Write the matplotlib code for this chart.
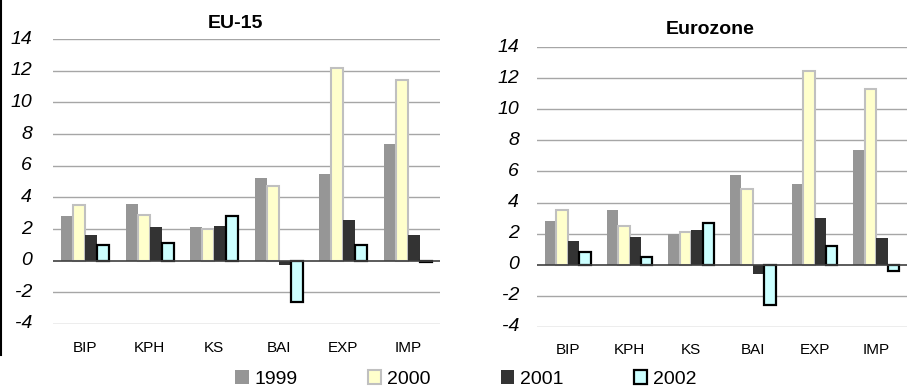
import matplotlib
matplotlib.use("Agg")
import matplotlib.pyplot as plt
import numpy as np
from matplotlib.lines import Line2D

categories = ["BIP", "KPH", "KS", "BAI", "EXP", "IMP"]
years = ["1999", "2000", "2001", "2002"]

eu15_1999 = [2.8, 3.6, 2.1, 5.2, 5.5, 7.4]
eu15_2000 = [3.5, 2.9, 2.0, 4.7, 12.2, 11.4]
eu15_2001 = [1.6, 2.1, 2.2, -0.3, 2.6, 1.6]
eu15_2002 = [1.0, 1.1, 2.8, -2.6, 1.0, -0.1]

ez_1999 = [2.8, 3.5, 2.0, 5.8, 5.2, 7.4]
ez_2000 = [3.5, 2.5, 2.1, 4.9, 12.5, 11.3]
ez_2001 = [1.5, 1.8, 2.2, -0.6, 3.0, 1.7]
ez_2002 = [0.8, 0.5, 2.7, -2.6, 1.2, -0.4]

yticks = [-4, -2, 0, 2, 4, 6, 8, 10, 12, 14]

plt.rcParams['font.family'] = ['Liberation Sans', 'DejaVu Sans']

styles = [
    dict(color="#969696", edgecolor="none", linewidth=0),
    dict(color="#FFFFCC", edgecolor="#C0C0C0", linewidth=1.5),
    dict(color="#333333", edgecolor="none", linewidth=0),
    dict(color="#CCFFFF", edgecolor="#000000", linewidth=1.6),
]

fig = plt.figure(figsize=(9.14, 3.87), dpi=100)

W, H = 914, 387
ax1 = fig.add_axes([53 / W, 1 - 324 / H, 387 / W, 285 / H])
ax2 = fig.add_axes([537 / W, 1 - 326.7 / H, 370 / W, 279.4 / H])

x = np.arange(len(categories))
bw = 0.185

def draw(ax, series, ypad_px):
    handles = []
    for i, (vals, st) in enumerate(zip(series, styles)):
        h = ax.bar(x + (i - 1.5) * bw, vals, bw, label=years[i], zorder=3, **st)
        handles.append(h)
    ax.set_ylim(-4, 14)
    ax.set_xlim(-0.5, len(categories) - 0.5)
    for s in ax.spines.values():
        s.set_visible(False)
    ax.tick_params(axis="both", length=0)
    ax.tick_params(axis="x", pad=12)
    ax.set_yticks(yticks)
    ax.set_yticklabels([])
    for v in yticks:
        ax.annotate(str(v), xy=(0, v), xycoords=("axes fraction", "data"),
                    xytext=(-ypad_px * 0.72, 0), textcoords="offset points",
                    ha="right", va="center", fontsize=14, fontstyle="italic",
                    annotation_clip=False)
    ax.set_xticks(x)
    ax.set_xticklabels(categories, fontsize=11)
    for v in yticks:
        if v != 0:
            ax.axhline(v, color="#A6A6A6", linewidth=1.0, zorder=1)
    ax.axhline(0, color="#404040", linewidth=1.2, zorder=4)
    return handles

handles = draw(ax1, [eu15_1999, eu15_2000, eu15_2001, eu15_2002], 21)
draw(ax2, [ez_1999, ez_2000, ez_2001, ez_2002], 18)

fig.text(235.5 / W, 1 - 24 / H, "EU-15", ha="center", va="center",
         fontsize=14, fontweight="bold")
fig.text(709.7 / W, 1 - 29.3 / H, "Eurozone", ha="center", va="center",
         fontsize=14, fontweight="bold")

fig.legend(handles, years, loc="center", bbox_to_anchor=(466 / W, 1 - 379 / H),
           ncol=4, frameon=False, fontsize=14, handlelength=0.7, handleheight=0.7,
           handletextpad=0.3, columnspacing=3.6, borderpad=0, borderaxespad=0)

fig.add_artist(Line2D([0.5 / W, 0.5 / W], [1, 1 - 355 / H], color="black",
                      linewidth=1.5, transform=fig.transFigure))

fig.savefig("out.png", dpi=100)
